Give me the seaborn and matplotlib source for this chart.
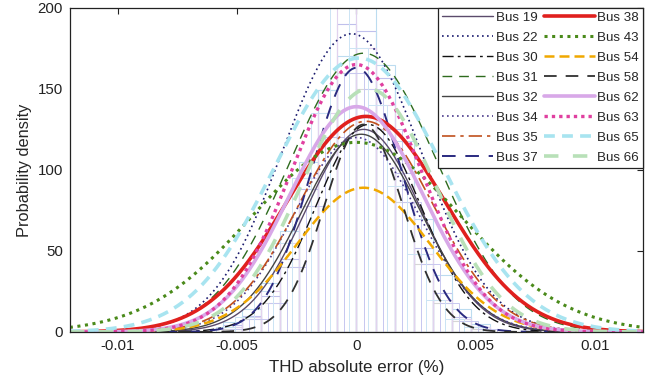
import numpy as np
import pandas as pd
import matplotlib
matplotlib.use('Agg')
import matplotlib.pyplot as plt
import seaborn as sns

# ── Style ────────────────────────────────────────────────────
sns.set_style('white')
plt.rcParams['font.family'] = ['Liberation Sans', 'DejaVu Sans']

# ── Fitted normal curves (peak height, mean, std) per bus ────
buses  = ['Bus 19', 'Bus 22', 'Bus 30', 'Bus 31', 'Bus 32', 'Bus 34', 'Bus 35', 'Bus 37',
          'Bus 38', 'Bus 43', 'Bus 54', 'Bus 58', 'Bus 62', 'Bus 63', 'Bus 65', 'Bus 66']
peaks  = [125, 184, 128, 172, 122, 120, 130, 163, 133, 117, 89, 128, 139, 165, 169, 150]
means  = [0.0003, -0.0002, 0.0005, 0.0003, 0.0002, 0.0, 0.0004, 0.0,
          0.0004, 0.0, 0.0003, 0.0003, 0.0, 0.0, 0.0001, 0.0005]
sigmas = [0.0024, 0.0029, 0.0022, 0.0031, 0.0025, 0.0026, 0.0028, 0.0019,
          0.0033, 0.0044, 0.0028, 0.00165, 0.0028, 0.0027, 0.0035, 0.0028]

colors = ['#5b4b6b', '#1a1a6e', '#111111', '#2e6b1e', '#444444', '#4b3b8b', '#c0501e', '#2a2a80',
          '#e0201e', '#4a8a1a', '#f0a800', '#303030', '#d8a8e8', '#e040a0', '#a8e4f0', '#b8e0b8']
styles = ['-', (0, (1, 2)), (0, (8, 3, 2, 3)), (0, (7, 5)), '-', (0, (1, 2)), (0, (8, 3, 2, 3)), (0, (7, 5)),
          '-', (0, (1, 1.5)), (0, (4, 2)), (0, (7, 5)), '-', (0, (1, 1.2)), (0, (3, 2)), (0, (4, 4))]
widths = [1.0, 1.2, 1.0, 1.0, 1.0, 1.2, 1.2, 1.4, 2.6, 2.2, 1.8, 1.3, 2.6, 2.4, 2.6, 2.6]

# ── Background histograms (bin centres and heights) ──────────
hist_centers = [-0.0052, -0.0044, -0.0036, -0.0028, -0.0020, -0.0012, -0.0004,
                0.0004, 0.0012, 0.0020, 0.0028, 0.0036, 0.0044, 0.0052]
hist_a = [4, 10, 22, 45, 88, 149, 190, 186, 157, 98, 52, 24, 9, 3]
hist_b = [6, 14, 30, 62, 105, 149, 170, 200, 165, 118, 70, 35, 14, 5]
hist_c = [2, 8, 18, 40, 78, 120, 160, 150, 125, 80, 42, 18, 7, 2]
hist_d = [3, 9, 25, 55, 95, 135, 200, 175, 140, 90, 48, 20, 8, 3]
hist_colors = ['#c0c0ec', '#bcdcf0', '#d6d6d6', '#e2d2ee']

x = np.linspace(-0.012, 0.012, 600)
rows = []
for b, p, m, s in zip(buses, peaks, means, sigmas):
    y = p * np.exp(-0.5 * ((x - m) / s) ** 2)
    rows.append(pd.DataFrame({'x': x, 'density': y, 'bus': b}))
df = pd.concat(rows, ignore_index=True)

fig = plt.figure(figsize=(6.65, 3.91), dpi=100)
ax = fig.add_axes([0.105, 0.151, 0.862, 0.829])

edges = list(np.arange(-0.0056, 0.0057, 0.0008))
hist_sets = [(hist_a, hist_colors[0], 0.0, 0.8), (hist_b, hist_colors[1], 0.0, 0.8),
             (hist_c, hist_colors[2], 0.0, 0.8), (hist_d, hist_colors[3], 0.0, 0.8),
             (hist_c, '#c8c8f0', 0.0003, 0.7), (hist_d, '#cce4f4', -0.0003, 0.7)]
for h, c, shift, lw in hist_sets:
    hd = pd.DataFrame({'x': np.array(hist_centers) + shift, 'w': h})
    sns.histplot(data=hd, x='x', weights='w', bins=[e + shift for e in edges],
                 stat='count', element='bars', fill=False, color=c, linewidth=lw, ax=ax)

handles = []
for b, c, ls, lw in zip(buses, colors, styles, widths):
    sub = df[df['bus'] == b]
    sns.lineplot(data=sub, x='x', y='density', color=c, linestyle=ls, lw=lw, ax=ax)
    handles.append(ax.lines[-1])

ax.set_xlim(-0.012, 0.012)
ax.set_ylim(0, 200)
ax.set_xticks([-0.01, -0.005, 0, 0.005, 0.01])
ax.set_xticklabels(['-0.01', '-0.005', '0', '0.005', '0.01'])
ax.set_yticks([0, 50, 100, 150, 200])
ax.tick_params(direction='in', top=True, right=True, length=4, width=0.8,
               labelsize=10.8, colors='#222222', pad=5)
for sp in ax.spines.values():
    sp.set_color('#222222')
    sp.set_linewidth(0.9)
ax.set_xlabel('THD absolute error (%)', fontsize=12.2, labelpad=5)
ax.set_ylabel('Probability density', fontsize=11.8, labelpad=4)

leg = ax.legend(handles, buses, ncol=2, loc='upper right', fontsize=9.6,
                frameon=True, fancybox=False, framealpha=1, edgecolor='#222222',
                borderaxespad=0, handlelength=3.8, handletextpad=0.2,
                columnspacing=0.5, labelspacing=0.57, borderpad=0.3)
leg.get_frame().set_linewidth(0.9)

plt.savefig('out.png', dpi=100)
